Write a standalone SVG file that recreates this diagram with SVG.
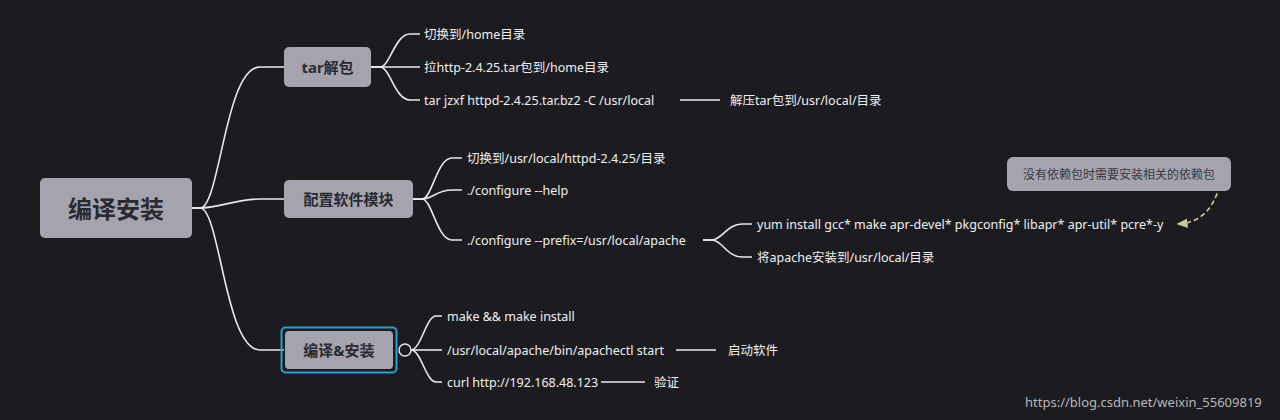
<svg xmlns="http://www.w3.org/2000/svg" width="1280" height="420" viewBox="0 0 1280 420">
<style>
.n{fill:#a4a3ae;}
.t{font-family:"Noto Sans","Noto Sans CJK SC",sans-serif;fill:#2a2a30;font-weight:bold;text-anchor:middle;dominant-baseline:central}
.l{font-family:"Noto Sans","Noto Sans CJK SC",sans-serif;fill:#f0f0f0;font-size:12.5px;dominant-baseline:central}
.c{fill:none;stroke:#e8e8e8;stroke-width:1.6}
</style>
<defs><marker id="ah" markerWidth="8" markerHeight="8" refX="6" refY="4" orient="auto"><path d="M0,1 L7,4 L0,7 Z" fill="#cfc59a"/></marker></defs>
<rect width="1280" height="420" fill="#1c1b20"/>
<g id="connectors">
<path class="c" d="M192,208 H200 C220,208 225,67 260,67 H284"/>
<path class="c" d="M192,208 H200 C220,208 235,199 260,199 H284"/>
<path class="c" d="M192,208 H200 C220,208 225,350 260,350 H284"/>
<path class="c" d="M371,67 H380 C390,67 395,34 410,34 H420"/>
<path class="c" d="M371,67 H420"/>
<path class="c" d="M371,67 H380 C390,67 395,100 410,100 H420"/>
<path class="c" d="M680,100 H720"/>
<path class="c" d="M413,199 H422 C432,199 437,158 452,158 H462"/>
<path class="c" d="M413,199 H422 C432,199 437,190 452,190 H462"/>
<path class="c" d="M413,199 H422 C432,199 437,240 452,240 H462"/>
<path class="c" d="M703,240 H712 C722,240 727,224 742,224 H752"/>
<path class="c" d="M703,240 H712 C722,240 727,257 742,257 H752"/>
<path class="c" d="M411,350 C421,350 426,316 436,316 H442"/>
<path class="c" d="M411,350 H442"/>
<path class="c" d="M411,350 C421,350 426,382 436,382 H442"/>
<path class="c" d="M676,350 H716"/>
<path class="c" d="M601,382 H645"/>
<circle cx="405" cy="350" r="6" fill="#1c1b20" stroke="#e8e8e8" stroke-width="1.4"/>
<path d="M1222,178 C1215,205 1205,222 1178,224" fill="none" stroke="#cfc59a" stroke-width="1.6" stroke-dasharray="5,3" marker-end="url(#ah)"/>
</g>
<g id="root"><rect class="n" x="40" y="178" width="152" height="60" rx="5"/><text class="t" x="116" y="208" font-size="24">编译安装</text></g>
<g id="tar"><rect class="n" x="284" y="47" width="87" height="40" rx="5"/><text class="t" x="327.5" y="67" font-size="15">tar解包</text></g>
<g id="cfg"><rect class="n" x="284" y="180" width="129" height="38" rx="5"/><text class="t" x="348.5" y="199" font-size="15">配置软件模块</text></g>
<g id="build"><rect x="281.5" y="327.5" width="115" height="45" rx="4" fill="none" stroke="#2a9fd6" stroke-width="2"/><rect class="n" x="285" y="331" width="108" height="38" rx="4"/><text class="t" x="339" y="350" font-size="15">编译&amp;安装</text></g>
<g id="note"><rect x="1007" y="157" width="224" height="34" rx="6" fill="#a4a3ae"/><text x="1119" y="174" font-family="Noto Sans,Noto Sans CJK SC,sans-serif" font-size="12" fill="#3a3a40" text-anchor="middle" dominant-baseline="central">没有依赖包时需要安装相关的依赖包</text></g>
<g id="leaves">
<text class="l" x="424" y="34">切换到/home目录</text>
<text class="l" x="424" y="67">拉http-2.4.25.tar包到/home目录</text>
<text class="l" x="424" y="100">tar jzxf httpd-2.4.25.tar.bz2 -C /usr/local</text>
<text class="l" x="730" y="100">解压tar包到/usr/local/目录</text>
<text class="l" x="467" y="158">切换到/usr/local/httpd-2.4.25/目录</text>
<text class="l" x="467" y="190">./configure --help</text>
<text class="l" x="467" y="240">./configure --prefix=/usr/local/apache</text>
<text class="l" x="757" y="224">yum install gcc* make apr-devel* pkgconfig* libapr* apr-util* pcre*-y</text>
<text class="l" x="757" y="257">将apache安装到/usr/local/目录</text>
<text class="l" x="447" y="316">make &amp;&amp; make install</text>
<text class="l" x="447" y="350">/usr/local/apache/bin/apachectl start</text>
<text class="l" x="728" y="350">启动软件</text>
<text class="l" x="447" y="382">curl http://192.168.48.123</text>
<text class="l" x="654" y="382">验证</text>
</g>
<text x="1025" y="402" font-family="Noto Sans,sans-serif" font-size="13" fill="#b8b8b8" dominant-baseline="central">https://blog.csdn.net/weixin_55609819</text>
</svg>
